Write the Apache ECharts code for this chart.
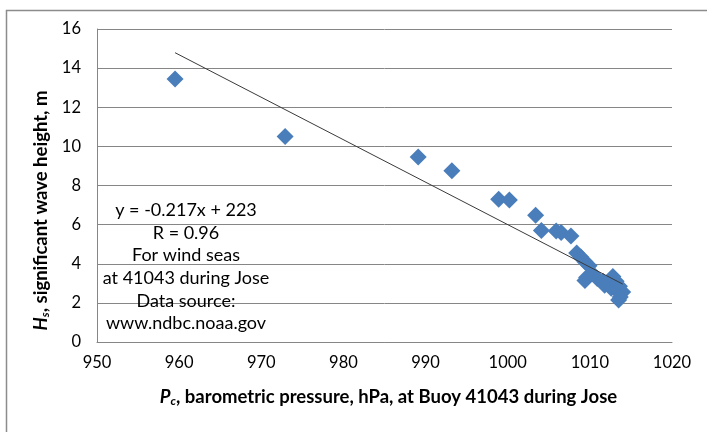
<!DOCTYPE html>
<html>
<head>
<meta charset="utf-8">
<script src="https://cdn.jsdelivr.net/npm/echarts@6/dist/echarts.min.js"></script>
<style>
html,body{margin:0;padding:0;background:#fff;}
#chart{width:707px;height:432px;}
</style>
</head>
<body>
<div id="chart"></div>
<script>
// Data
const pressure = [959.5, 972.9, 989.1, 993.2, 998.9, 1000.2, 1003.4, 1004.1, 1005.9, 1006.5, 1007.7,
  1008.4, 1008.9, 1009.4, 1009.9, 1009.6, 1009.4, 1010.3, 1010.9, 1011.6, 1012.2, 1012.8, 1013.2,
  1013.6, 1013.4, 1014.0, 1013.7, 1013.5, 1012.6, 1011.8];
const waveHeight = [13.45, 10.5, 9.46, 8.75, 7.3, 7.26, 6.48, 5.7, 5.68, 5.6, 5.42,
  4.55, 4.35, 4.1, 3.9, 3.3, 3.15, 3.5, 3.25, 3.1, 2.95, 3.35, 3.1,
  2.85, 2.6, 2.55, 2.3, 2.15, 2.75, 2.9];
const trendSlope = -0.217;
const trendIntercept = 223;
const xTicks = [950, 960, 970, 980, 990, 1000, 1010, 1020];
const yTicks = [0, 2, 4, 6, 8, 10, 12, 14, 16];
const noteLines = ['y = -0.217x + 223', 'R = 0.96', 'For wind seas', 'at 41043 during Jose', 'Data source:', 'www.ndbc.noaa.gov'];

const points = pressure.map((p, i) => [p, waveHeight[i]]);
const xMin = Math.min(...pressure), xMax = Math.max(...pressure);
const trend = [[xMin, trendSlope * xMin + trendIntercept], [xMax, trendSlope * xMax + trendIntercept]];

const FONT = 'Lato';
const titleRich = {
  i: { fontFamily: FONT, fontSize: 18.5, fontWeight: 'bold', fontStyle: 'italic', color: '#000' },
  s: { fontFamily: FONT, fontSize: 12, fontWeight: 'bold', fontStyle: 'italic', color: '#000', verticalAlign: 'bottom', padding: [8, 0, 0, 0] },
  b: { fontFamily: FONT, fontSize: 18.5, fontWeight: 'bold', color: '#000' }
};
const chart = echarts.init(document.getElementById('chart'));
chart.setOption({
  backgroundColor: '#fff',
  animation: false,
  grid: { left: 97, right: 35, top: 29, bottom: 90 },
  xAxis: {
    type: 'value', min: xTicks[0], max: xTicks[xTicks.length - 1], interval: 10,
    axisLine: { show: true, lineStyle: { color: '#868686', width: 1 } },
    axisTick: { show: false },
    splitLine: { show: false },
    axisLabel: { color: '#000', fontFamily: FONT, fontSize: 16.5, margin: 12, formatter: v => String(v) },
    name: '{i|P}{s|c}{b|, barometric pressure, hPa, at Buoy 41043 during Jose}',
    nameLocation: 'middle', nameGap: 45,
    nameTextStyle: { rich: titleRich, padding: [0, 0, 0, 8] }
  },
  yAxis: {
    type: 'value', min: yTicks[0], max: yTicks[yTicks.length - 1], interval: 2,
    axisLine: { show: true, lineStyle: { color: '#868686', width: 1 } },
    axisTick: { show: false },
    splitLine: { show: true, lineStyle: { color: '#868686', width: 1 } },
    axisLabel: { color: '#000', fontFamily: FONT, fontSize: 16.5, margin: 16, formatter: v => String(v) },
    name: '{i|H}{s|s}{b|, significant wave height, m}',
    nameLocation: 'middle', nameGap: 46,
    nameTextStyle: { rich: titleRich, padding: [0, 50, 0, 0] }
  },
  series: [
    {
      type: 'scatter', data: points, symbol: 'diamond', symbolSize: [17, 17],
      itemStyle: { color: '#4A7EBB', opacity: 1 }, z: 3
    },
    {
      type: 'line', data: trend, symbol: 'none',
      lineStyle: { color: '#3a3a3a', width: 1 }, z: 4
    }
  ],
  graphic: [
    { type: 'rect', left: 4, top: 8, shape: { width: 720, height: 440 }, style: { fill: 'none', stroke: '#8c8c8c', lineWidth: 1.5 }, silent: true },
    {
      type: 'text', z: 10,
      style: {
        x: 186, y: 199, text: noteLines.join('\n'), fill: '#000', font: '18px ' + FONT,
        textAlign: 'center', textVerticalAlign: 'top', lineHeight: 22.6
      }
    }
  ]
});
</script>
</body>
</html>
